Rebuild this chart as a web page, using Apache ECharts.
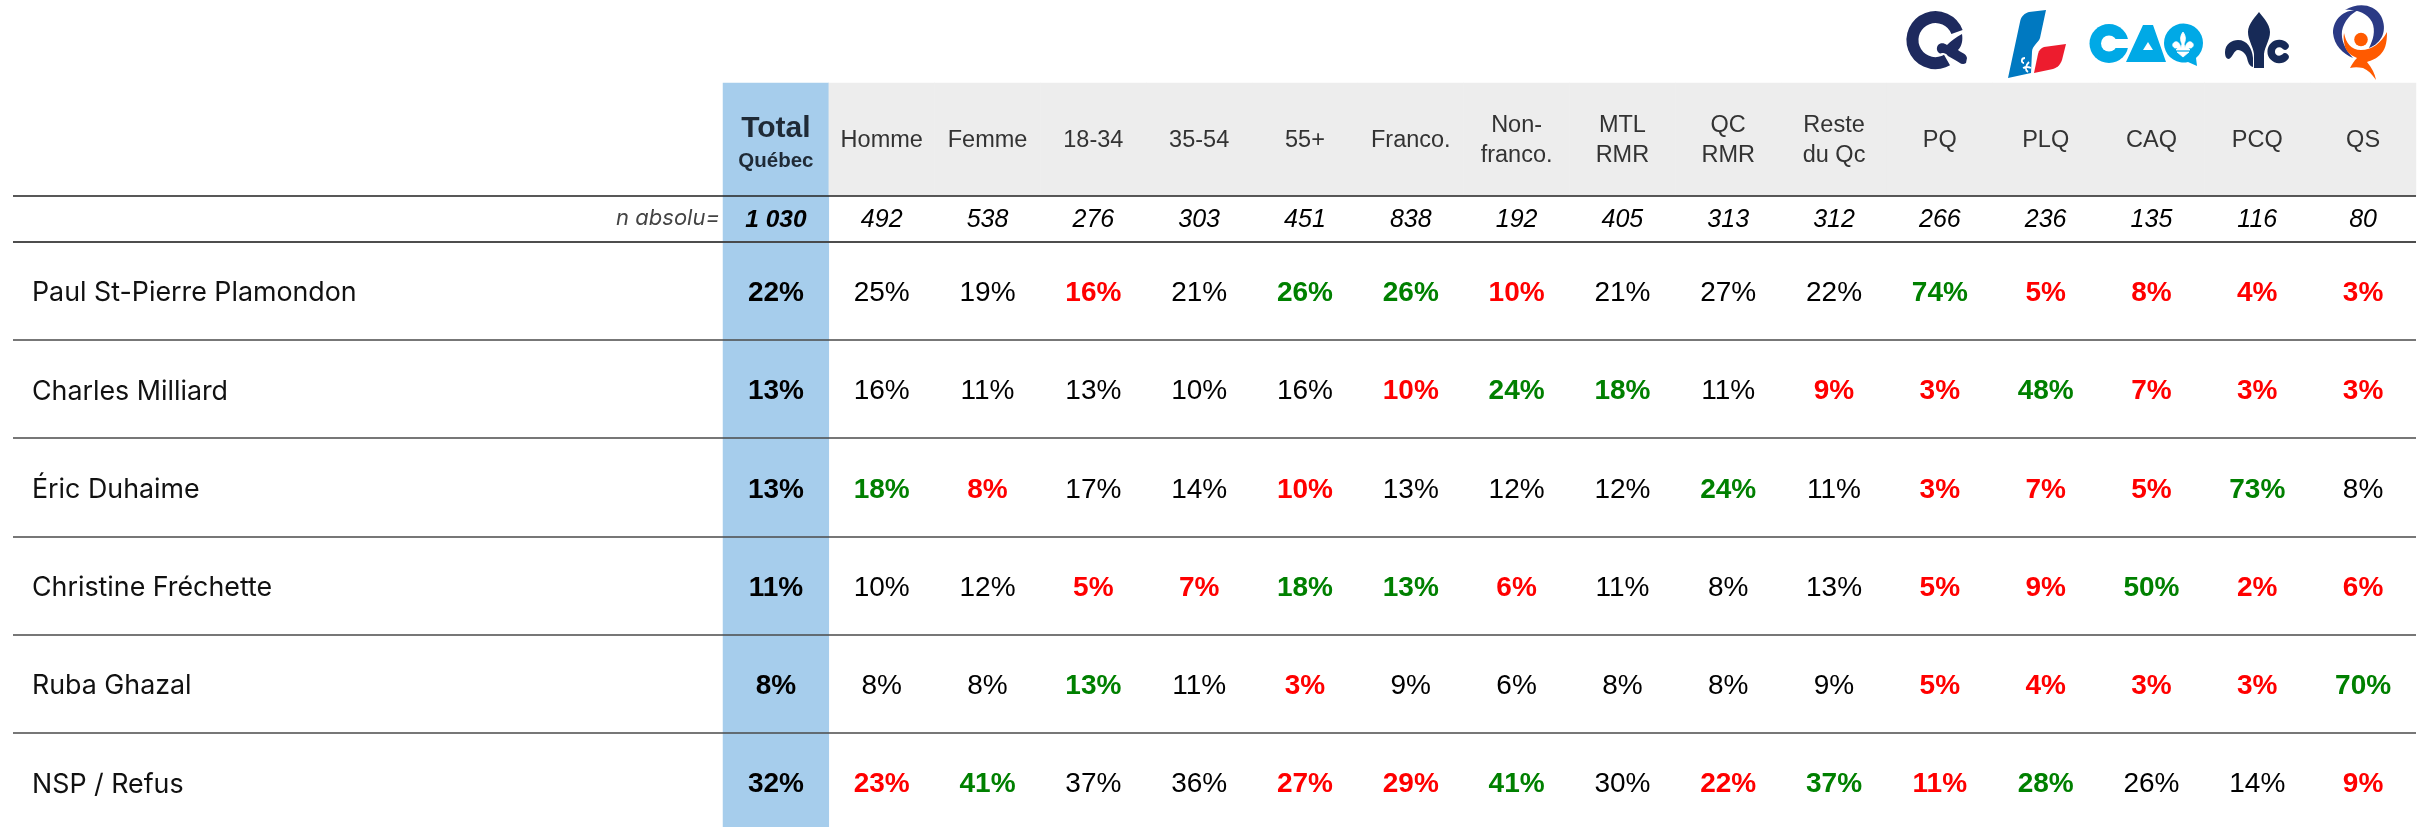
<!DOCTYPE html>
<html><head><meta charset="utf-8">
<style>html,body{margin:0;padding:0;background:#fff}#c{width:2423px;height:827px}</style>
<script src="https://cdn.jsdelivr.net/npm/echarts@6/dist/echarts.min.js"></script>
</head><body><div id="c"></div>
<script>
const columns = ['Total','Homme','Femme','18-34','35-54','55+','Franco.','Non-\nfranco.','MTL\nRMR','QC\nRMR','Reste\ndu Qc','PQ','PLQ','CAQ','PCQ','QS'];
const nLabel = 'n absolu=';
const nAbsolu = ['1 030','492','538','276','303','451','838','192','405','313','312','266','236','135','116','80'];
const candidates = ['Paul St-Pierre Plamondon','Charles Milliard','Éric Duhaime','Christine Fréchette','Ruba Ghazal','NSP / Refus'];
const plamondon = [22,25,19,16,21,26,26,10,21,27,22,74,5,8,4,3];
const milliard  = [13,16,11,13,10,16,10,24,18,11,9,3,48,7,3,3];
const duhaime   = [13,18,8,17,14,10,13,12,12,24,11,3,7,5,73,8];
const frechette = [11,10,12,5,7,18,13,6,11,8,13,5,9,50,2,6];
const ghazal    = [8,8,8,13,11,3,9,6,8,8,9,5,4,3,3,70];
const nsp       = [32,23,41,37,36,27,29,41,30,22,37,11,28,26,14,9];
// significance of each cell: 1 = above the total (green), -1 = below (red), 0 = none
const sigPlamondon = [0,0,0,-1,0,1,1,-1,0,0,0,1,-1,-1,-1,-1];
const sigMilliard  = [0,0,0,0,0,0,-1,1,1,0,-1,-1,1,-1,-1,-1];
const sigDuhaime   = [0,1,-1,0,0,-1,0,0,0,1,0,-1,-1,-1,1,0];
const sigFrechette = [0,0,0,-1,-1,1,1,-1,0,0,0,-1,-1,1,-1,-1];
const sigGhazal    = [0,0,0,1,0,-1,0,0,0,0,0,-1,-1,-1,-1,1];
const sigNsp       = [0,-1,1,0,0,-1,-1,1,0,-1,1,-1,1,0,0,-1];

const table = [plamondon,milliard,duhaime,frechette,ghazal,nsp];
const sigTable = [sigPlamondon,sigMilliard,sigDuhaime,sigFrechette,sigGhazal,sigNsp];

const BLUE='#a6cdec', GREY='#ededed', NUM='"Liberation Sans"', NAME='Inter';
const LINE='#4a4a4a';
const transparent='rgba(0,0,0,0)';
const bandColor = x => x===0 ? BLUE : transparent;

const headerData = columns.map((c,x)=>({
  value:[x,0,0],
  itemStyle:{color:x===0?BLUE:GREY},
  label: x===0
    ? {formatter:'{t|Total}\n{q|Québec}',rich:{
        t:{fontFamily:NUM,fontSize:30,fontWeight:'bold',color:'#1f2a36',lineHeight:40,align:'center'},
        q:{fontFamily:NUM,fontSize:20.5,fontWeight:'bold',color:'#1f2a36',lineHeight:25,align:'center'}},
        offset:[0,2]}
    : {formatter:c,fontFamily:NUM,fontSize:23.5,color:'#333',lineHeight:30,offset:[0,1.5]}
}));
const nData = nAbsolu.map((n,x)=>({
  value:[x,0,0],
  itemStyle:{color:bandColor(x)},
  label:{formatter:n,fontFamily:NUM,fontSize:x===0?24.5:25,fontStyle:'italic',
         fontWeight:x===0?'bold':'normal',color:'#000',offset:[0,1]}
}));
const sigColor = s => s>0 ? '#008000' : s<0 ? '#ff0000' : '#000';
const bodyData = [];
table.forEach((row,y)=>row.forEach((v,x)=>{
  const s = sigTable[y][x];
  bodyData.push({
    value:[x,y,v],
    itemStyle:{color:bandColor(x)},
    label:{formatter:v+'%',fontFamily:NUM,fontSize:28,color:sigColor(s),
           fontWeight:(x===0||s!==0)?'bold':'normal',offset:[0,2.5]}
  });
}));

const GL=723, GW=1693;
const grids=[
  {left:GL,top:83,width:GW,height:113,outerBoundsMode:'none'},
  {left:GL,top:196,width:GW,height:45.7,outerBoundsMode:'none'},
  {left:GL,top:241.7,width:GW,height:589.5,outerBoundsMode:'none'}
];
const xAxes=grids.map((g,i)=>({type:'category',gridIndex:i,data:columns,
  axisLine:{show:false},axisTick:{show:false},axisLabel:{show:false},splitLine:{show:false}}));
const rowLine = w => ({show:true,interval:0,lineStyle:{color:LINE,width:w}});
const yAxes=[
  {type:'category',gridIndex:0,data:['Entête'],axisLine:{show:false},axisTick:{show:false},axisLabel:{show:false},splitLine:{show:false}},
  {type:'category',gridIndex:1,data:[nLabel],z:5,axisLine:{show:false},
   axisTick:{show:true,interval:0,length:710,lineStyle:{color:'#222',width:1.5}},
   splitLine:{show:true,interval:0,lineStyle:{color:'#222',width:1.5}},
   axisLabel:{show:true,fontFamily:NAME,fontSize:22,fontStyle:'italic',color:'#444',margin:3}},
  {type:'category',gridIndex:2,data:candidates,inverse:true,z:5,axisLine:{show:false},
   axisTick:{show:true,interval:0,length:710,lineStyle:{color:LINE,width:1.6}},
   splitLine:rowLine(1.6),
   axisLabel:{show:true,fontFamily:NAME,fontSize:26.8,color:'#111',align:'left',margin:691,verticalAlign:'top',lineHeight:5}}
];
const mk=(i,data)=>({type:'heatmap',xAxisIndex:i,yAxisIndex:i,data,silent:true,progressive:0,
  label:{show:true},emphasis:{disabled:true},z:2});

// party logos (decoration above the table)
const NAVY='#1e2a5e', QBLUE='#0079c1', QRED='#ed1c2e', CYAN='#00a9e6', PNAVY='#172a57', SWIRL='#2b3a85', ORANGE='#ff5a00';
let shapeCount=0;
const pathEl=(d,style)=>{
  const name='logoPath'+(shapeCount++);
  echarts.graphic.registerShape(name,echarts.graphic.extendPath(d,{}));
  return {type:name,shape:{},style,silent:true,z:10};
};
const fillP=(d,c)=>pathEl(d,{fill:c,stroke:null});
const strokeP=(d,c,w,cap)=>pathEl(d,{fill:null,stroke:c,lineWidth:w,lineCap:cap||'butt'});
const circleEl=(cx,cy,r,c)=>({type:'circle',shape:{cx,cy,r},style:{fill:c},silent:true,z:10});
const logos=[
  // PQ
  strokeP('M1957 32 A23 23 0 1 0 1947 60',NAVY,12),
  strokeP('M1950 42 L1965 32','#fff',1.6),
  fillP('M1937 50 C1936 44 1942 41 1947 45 C1951 41 1956 37 1962 34 C1963 40 1962 46 1958 50 C1961 53 1966 53 1967 58 L1966 63 C1962 66 1959 62 1955 60 L1948 56 C1946 53 1944 53 1942 53 C1940 54 1938 53 1937 50 Z',NAVY),
  // PLQ
  fillP('M2046 10 L2040 38 C2039 42 2032 46 2032 52 L2031 73 L2008 78 L2020 22 C2021 16 2025 13 2029 12 Z',QBLUE),
  fillP('M2066 44 L2062 60 C2060 66 2056 68 2053 69 L2034 73 L2038 54 C2039 50 2041 48 2044 47 Z',QRED),
  strokeP('M2025 58 C2021 58 2021 63 2024 63 M2029 62 C2025 66 2025 70 2028 72 M2023 68 C2027 66 2029 67 2031 68','#fff',1.8),
  // CAQ
  circleEl(2109,43.5,19.5,CYAN),
  circleEl(2109,43.5,8,'#fff'),
  {type:'rect',shape:{x:2109,y:39,width:22,height:9},style:{fill:'#fff'},silent:true,z:10},
  fillP('M2143 25 L2153 25 L2166 62 L2126 62 Z M2148 42 L2143 50 L2153 50 Z',CYAN),
  fillP('M2164 43 A19.5 19.5 0 1 1 2196 58 L2197 66 L2188 62 A19.5 19.5 0 0 1 2164 43 Z',CYAN),
  pathEl('M2183 32 C2180 36 2180 40 2182 44 L2181 48 C2180 44 2178 41 2175 42 C2172 43 2172 47 2175 48 L2178 48 L2176 50 L2190 50 L2188 48 L2191 48 C2194 47 2194 43 2191 42 C2188 41 2186 44 2185 48 L2184 44 C2186 40 2186 36 2183 32 Z M2177 52 L2189 52 L2183 57 Z',{fill:'#fff',stroke:'#fff',lineWidth:0.8}),
  // PCQ
  fillP('M2259 12 C2262 16 2270 24 2270 32 C2270 40 2265 46 2264 54 L2264 68 L2254 68 L2254 54 C2253 46 2248 40 2248 32 C2248 24 2256 16 2259 12 Z',PNAVY),
  fillP('M2225 52 C2225 44 2232 40 2238 40 C2247 40 2252 48 2253 58 L2253 67 C2249 66 2248 62 2247 58 C2246 54 2242 50 2238 50 C2234 50 2233 57 2229 59 C2226 59 2225 56 2225 52 Z',PNAVY),
  strokeP('M2285 46 A8 8 0 1 0 2285 57',PNAVY,7.5,'round'),
  // QS
  fillP('M2359 10 C2345 9 2333 18 2333 33 C2334 45 2343 54 2353 58 C2344 48 2341 39 2342 31 C2344 21 2351 13 2359 10 Z',SWIRL),
  fillP('M2345 10 C2357 3 2373 3 2381 16 C2388 30 2382 43 2369 48 C2373 40 2376 31 2372 22 C2367 13 2356 9 2345 10 Z',SWIRL),
  circleEl(2361,39.5,6.8,ORANGE),
  fillP('M2344 33 C2346 43 2351 50 2361 50 C2372 50 2381 43 2387 32 C2387 44 2385 50 2380 55 C2376 59 2372 60 2367 62 C2372 68 2375 74 2376 80 C2372 74 2368 70 2363 68 C2358 67 2354 67 2350 68 C2352 64 2354 61 2357 58 C2350 55 2347 52 2345 47 C2344 42 2343 38 2344 33 Z',ORANGE)
];

const chart=echarts.init(document.getElementById('c'),null,{renderer:'canvas'});
chart.setOption({
  animation:false,
  backgroundColor:'#fff',
  grid:grids,
  xAxis:xAxes,
  yAxis:yAxes,
  series:[mk(0,headerData),mk(1,nData),mk(2,bodyData)],
  graphic:logos
});
</script></body></html>
